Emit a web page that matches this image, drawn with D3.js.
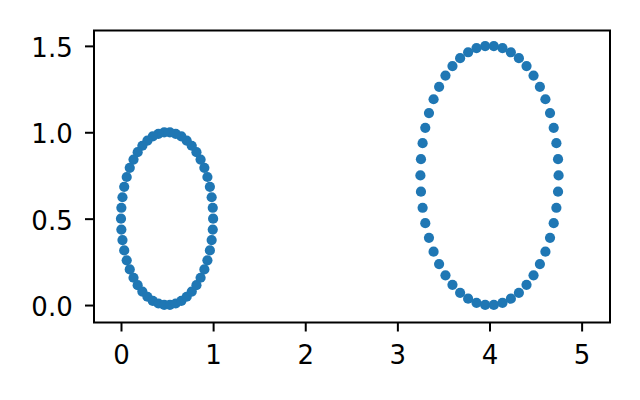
<!DOCTYPE html>
<html>
<head>
<meta charset="utf-8">
<script src="https://cdn.jsdelivr.net/npm/d3@7"></script>
<style>
  body { margin: 0; background: #fff; }
  svg { display: block; }
</style>
</head>
<body>
<script>
const w = 640;
const h = 400;

// * DATA (two rings of 50 points each)
const leftX = [1.000, .996, .984, .965, .938, .905, .864, .819, .768, .713, .655, .594, .531, .469, .406, .345, .287, .232, .181, .136, .095, .062, .035, .016, .004, .000, .004, .016, .035, .062, .095, .136, .181, .232, .287, .345, .406, .469, .531, .594, .655, .713, .768, .819, .864, .905, .938, .965, .984, .996];
const leftY = [.500, .563, .624, .684, .741, .794, .842, .885, .922, .952, .976, .991, .999, .999, .991, .976, .952, .922, .885, .842, .794, .741, .684, .624, .563, .500, .437, .376, .316, .259, .206, .158, .115, .078, .048, .024, .009, .001, .001, .009, .024, .048, .078, .115, .158, .206, .259, .316, .376, .437];
const rightX = [4.750, 4.744, 4.726, 4.697, 4.657, 4.607, 4.547, 4.478, 4.402, 4.319, 4.232, 4.141, 4.047, 3.953, 3.859, 3.768, 3.681, 3.598, 3.522, 3.453, 3.393, 3.343, 3.303, 3.274, 3.256, 3.250, 3.256, 3.274, 3.303, 3.343, 3.393, 3.453, 3.522, 3.598, 3.681, 3.768, 3.859, 3.953, 4.047, 4.141, 4.232, 4.319, 4.402, 4.478, 4.547, 4.607, 4.657, 4.697, 4.726, 4.744];
const rightY = [.750, .844, .937, 1.026, 1.111, 1.191, 1.263, 1.328, 1.383, 1.429, 1.463, 1.487, 1.499, 1.499, 1.487, 1.463, 1.429, 1.383, 1.328, 1.263, 1.191, 1.111, 1.026, .937, .844, .750, .656, .563, .474, .389, .309, .237, .172, .117, .071, .037, .013, .001, .001, .013, .037, .071, .117, .172, .237, .309, .389, .474, .563, .656];
const xTicks = [0, 1, 2, 3, 4, 5];
const yTicks = [0, 0.5, 1.0, 1.5];

const points = leftX.map((x, i) => ({ x: x, y: leftY[i] }))
	.concat(rightX.map((x, i) => ({ x: x, y: rightY[i] })));

// * PLOT BOX
const boxLeft = 94, boxRight = 610, boxTop = 30.5, boxBottom = 322.5;

const svg = d3.select("body")
	.append("svg")
	.attr("width", w)
	.attr("height", h)
	.style("font-family", "'DejaVu Sans', sans-serif");

// * SCALES
const xScale = d3.scaleLinear().domain([-0.293, 5.308]).range([boxLeft, boxRight]);
const yScale = d3.scaleLinear().domain([-0.101, 1.589]).range([boxBottom, boxTop]);

// * POINTS
svg.append("g")
	.selectAll("circle")
	.data(points)
	.enter()
	.append("circle")
	.attr("cx", (d) => xScale(d.x))
	.attr("cy", (d) => yScale(d.y))
	.attr("r", 5.1)
	.attr("fill", "#1f77b4");

// * AXES
const xAxis = d3.axisBottom(xScale).tickValues(xTicks).tickFormat(d3.format("d"))
	.tickSize(9).tickPadding(14.3);
const yAxis = d3.axisLeft(yScale).tickValues(yTicks).tickFormat(d3.format(".1f"))
	.tickSize(9).tickPadding(12.3);

const gx = svg.append("g")
	.attr("transform", "translate(0," + boxBottom + ")")
	.call(xAxis);
const gy = svg.append("g")
	.attr("transform", "translate(" + boxLeft + ",0)")
	.call(yAxis);

[gx, gy].forEach((g) => {
	g.select(".domain").remove();
	g.selectAll(".tick line").attr("stroke", "#000").attr("stroke-width", 2);
	g.selectAll(".tick text")
		.attr("fill", "#000")
		.style("font-size", "26px")
		.style("font-family", "'DejaVu Sans', sans-serif");
});
gy.selectAll(".tick text").attr("dy", "0.41em");

// * FRAME
svg.append("rect")
	.attr("x", boxLeft)
	.attr("y", boxTop)
	.attr("width", boxRight - boxLeft)
	.attr("height", boxBottom - boxTop)
	.attr("fill", "none")
	.attr("stroke", "#000")
	.attr("stroke-width", 2);
</script>
</body>
</html>
